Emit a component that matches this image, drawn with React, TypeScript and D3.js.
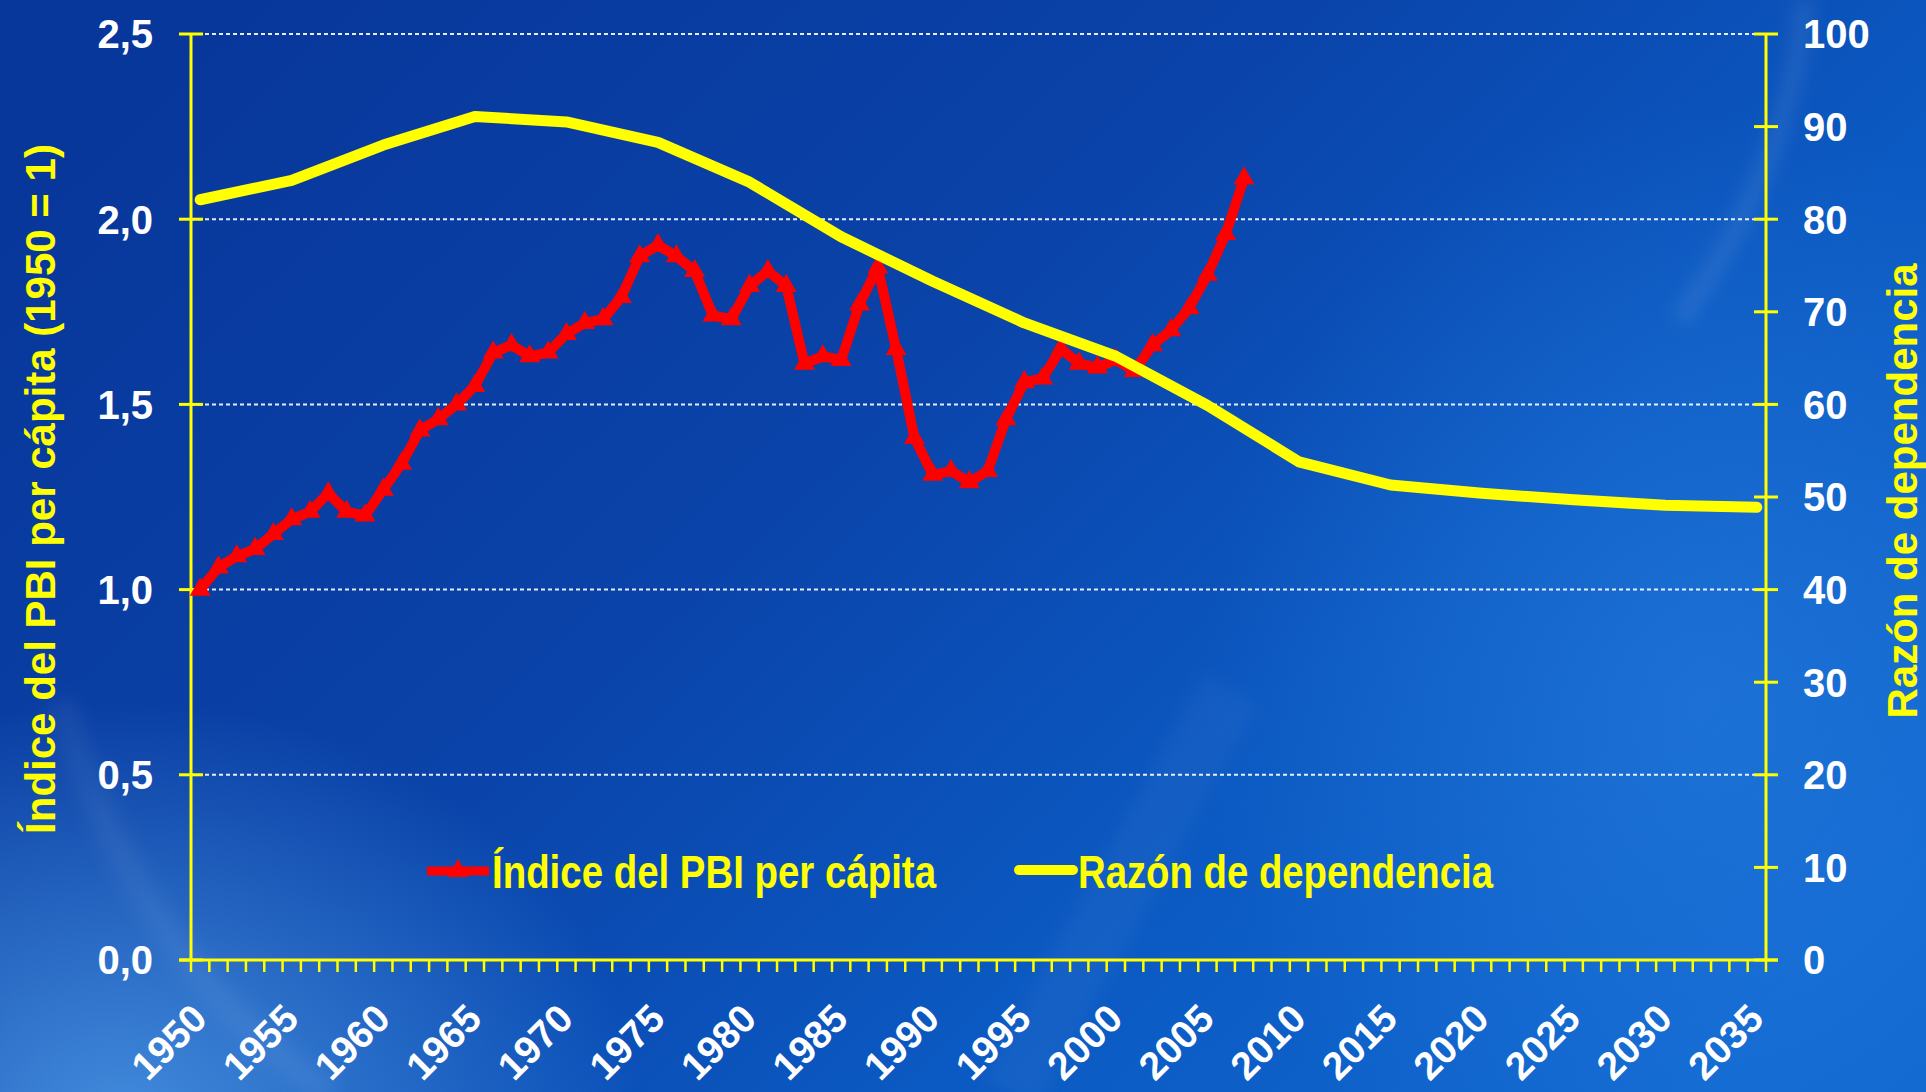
import React, { useEffect, useRef } from "react";
import * as d3 from "d3";

// categories: one band per year, 1950..2035
const years = d3.range(1950, 2036);

// Índice del PBI per cápita (1950 = 1), 1950..2007
const pbiYears = d3.range(1950, 2008);
const pbiValues = [
  1.0, 1.06, 1.09, 1.11, 1.15, 1.19, 1.21, 1.26, 1.21, 1.2,
  1.27, 1.34, 1.43, 1.46, 1.5, 1.55, 1.64, 1.66, 1.63, 1.64,
  1.69, 1.72, 1.73, 1.79, 1.9, 1.93, 1.9, 1.86, 1.74, 1.73,
  1.82, 1.86, 1.82, 1.61, 1.63, 1.62, 1.77, 1.87, 1.65, 1.41,
  1.31, 1.32, 1.29, 1.32, 1.46, 1.56, 1.57, 1.65, 1.61, 1.6,
  1.62, 1.59, 1.66, 1.7, 1.76, 1.85, 1.96, 2.11,
];

// Razón de dependencia, every 5 years
const depYears = [1950, 1955, 1960, 1965, 1970, 1975, 1980, 1985, 1990, 1995, 2000, 2005, 2010, 2015, 2020, 2025, 2030, 2035];
const depValues = [82.1, 84.2, 88.0, 91.1, 90.5, 88.3, 84.0, 78.1, 73.3, 68.8, 65.2, 59.9, 53.8, 51.3, 50.4, 49.7, 49.1, 48.9];

const leftTicks = [0, 0.5, 1, 1.5, 2, 2.5];
const rightTicks = [0, 10, 20, 30, 40, 50, 60, 70, 80, 90, 100];
const yearLabels = [1950, 1955, 1960, 1965, 1970, 1975, 1980, 1985, 1990, 1995, 2000, 2005, 2010, 2015, 2020, 2025, 2030, 2035];

const W = 1926;
const H = 1092;
const FONT = "'Liberation Sans', Arial, sans-serif";
const YELLOW = "#ffff00";
const RED = "#ff0000";

export default function App() {
  const svgRef = useRef<SVGSVGElement>(null);

  useEffect(() => {
    const svg = d3.select(svgRef.current);
    svg.selectAll("*").remove();

    const left = 191, right = 1766, top = 34, bottom = 960;

    const x = d3.scaleBand<number>().domain(years).range([left, right]);
    const bw = x.bandwidth();
    const cx = (yr: number) => (x(yr) as number) + bw / 2;
    const yL = d3.scaleLinear().domain([0, 2.5]).range([bottom, top]);
    const yR = d3.scaleLinear().domain([0, 100]).range([bottom, top]);

    // background
    const defs = svg.append("defs");
    const bg = defs.append("linearGradient").attr("id", "bg")
      .attr("x1", 0).attr("y1", 0.2).attr("x2", 1).attr("y2", 0.8);
    bg.append("stop").attr("offset", 0).attr("stop-color", "#08379b");
    bg.append("stop").attr("offset", 0.4).attr("stop-color", "#0a43a9");
    bg.append("stop").attr("offset", 0.7).attr("stop-color", "#0b59c2");
    bg.append("stop").attr("offset", 1).attr("stop-color", "#1067cf");

    const glow = defs.append("radialGradient").attr("id", "glow")
      .attr("cx", 0.5).attr("cy", 0.5).attr("r", 0.5);
    glow.append("stop").attr("offset", 0).attr("stop-color", "#5aaaf2").attr("stop-opacity", 0.7);
    glow.append("stop").attr("offset", 1).attr("stop-color", "#5aaaf2").attr("stop-opacity", 0);

    const glow2 = defs.append("radialGradient").attr("id", "glow2")
      .attr("cx", 0.5).attr("cy", 0.5).attr("r", 0.5);
    glow2.append("stop").attr("offset", 0).attr("stop-color", "#2f86e6").attr("stop-opacity", 0.45);
    glow2.append("stop").attr("offset", 1).attr("stop-color", "#2f86e6").attr("stop-opacity", 0);

    defs.append("filter").attr("id", "soft")
      .attr("x", -0.2).attr("y", -0.2).attr("width", 1.4).attr("height", 1.4)
      .append("feGaussianBlur").attr("stdDeviation", 8);

    svg.append("rect").attr("width", W).attr("height", H).attr("fill", "url(#bg)");
    svg.append("ellipse").attr("cx", 120).attr("cy", 1120).attr("rx", 520).attr("ry", 420).attr("fill", "url(#glow)");
    svg.append("ellipse").attr("cx", 1700).attr("cy", 700).attr("rx", 500).attr("ry", 600).attr("fill", "url(#glow2)");
    const streaks = svg.append("g").attr("filter", "url(#soft)");
    streaks.append("path")
      .attr("d", "M1805,0 C1795,120 1750,220 1680,320")
      .attr("fill", "none").attr("stroke", "#ffffff").attr("stroke-opacity", 0.08).attr("stroke-width", 20);
    streaks.append("path")
      .attr("d", "M1230,690 L1010,1092")
      .attr("fill", "none").attr("stroke", "#ffffff").attr("stroke-opacity", 0.035).attr("stroke-width", 60);
    streaks.append("path")
      .attr("d", "M60,700 C120,900 220,1020 330,1092")
      .attr("fill", "none").attr("stroke", "#ffffff").attr("stroke-opacity", 0.05).attr("stroke-width", 30);

    // grid lines
    svg.append("g").selectAll("line")
      .data(leftTicks.filter((v) => v > 0))
      .enter().append("line")
      .attr("x1", left).attr("x2", right)
      .attr("y1", (d) => yL(d)).attr("y2", (d) => yL(d))
      .attr("stroke", "#ffffff").attr("stroke-width", 2).attr("stroke-dasharray", "4 3")
      .attr("stroke-opacity", 0.9);

    // left axis
    const gl = svg.append("g");
    gl.append("line").attr("x1", left).attr("x2", left).attr("y1", top).attr("y2", bottom)
      .attr("stroke", YELLOW).attr("stroke-width", 3);
    gl.selectAll(".tk").data(leftTicks).enter().append("line")
      .attr("x1", left - 12).attr("x2", left + 12)
      .attr("y1", (d) => yL(d)).attr("y2", (d) => yL(d))
      .attr("stroke", YELLOW).attr("stroke-width", 3);
    gl.selectAll("text").data(leftTicks).enter().append("text")
      .attr("x", 153).attr("y", (d) => yL(d)).attr("dy", "0.36em")
      .attr("text-anchor", "end").attr("fill", "#ffffff")
      .attr("font-family", FONT).attr("font-weight", "bold").attr("font-size", 40)
      .text((d) => d.toFixed(1).replace(".", ","));

    // right axis
    const gr = svg.append("g");
    gr.append("line").attr("x1", right).attr("x2", right).attr("y1", top).attr("y2", bottom)
      .attr("stroke", YELLOW).attr("stroke-width", 3);
    gr.selectAll(".tk").data(rightTicks).enter().append("line")
      .attr("x1", right - 12).attr("x2", right + 12)
      .attr("y1", (d) => yR(d)).attr("y2", (d) => yR(d))
      .attr("stroke", YELLOW).attr("stroke-width", 3);
    gr.selectAll("text").data(rightTicks).enter().append("text")
      .attr("x", 1803).attr("y", (d) => yR(d)).attr("dy", "0.36em")
      .attr("text-anchor", "start").attr("fill", "#ffffff")
      .attr("font-family", FONT).attr("font-weight", "bold").attr("font-size", 40)
      .text((d) => d);

    // x axis
    const gx = svg.append("g");
    gx.append("line").attr("x1", left - 12).attr("x2", right + 12).attr("y1", bottom).attr("y2", bottom)
      .attr("stroke", YELLOW).attr("stroke-width", 3);
    const bounds = years.map((yr) => x(yr) as number).concat([right]);
    gx.selectAll(".tk").data(bounds).enter().append("line")
      .attr("x1", (d) => d).attr("x2", (d) => d)
      .attr("y1", bottom).attr("y2", bottom + 12)
      .attr("stroke", YELLOW).attr("stroke-width", 2.5);
    gx.selectAll("text").data(yearLabels).enter().append("text")
      .attr("transform", (d) => `translate(${cx(d) + 9},${bottom + 61}) rotate(-45)`)
      .attr("text-anchor", "end").attr("fill", "#ffffff")
      .attr("font-family", FONT).attr("font-weight", "bold").attr("font-size", 39)
      .text((d) => d);

    // axis titles
    svg.append("text")
      .attr("transform", "translate(55,489) rotate(-90)")
      .attr("text-anchor", "middle").attr("fill", YELLOW)
      .attr("font-family", FONT).attr("font-weight", "bold").attr("font-size", 42)
      .text("Índice del PBI per cápita (1950 = 1)");
    svg.append("text")
      .attr("transform", "translate(1917,491) rotate(-90)")
      .attr("text-anchor", "middle").attr("fill", YELLOW)
      .attr("font-family", FONT).attr("font-weight", "bold").attr("font-size", 42)
      .text("Razón de dependencia");

    // red series
    const pbi = pbiYears.map((yr, i) => ({ yr, v: pbiValues[i] }));
    const redLine = d3.line<{ yr: number; v: number }>()
      .x((d) => cx(d.yr)).y((d) => yL(d.v));
    svg.append("path").datum(pbi).attr("d", redLine)
      .attr("fill", "none").attr("stroke", RED).attr("stroke-width", 10)
      .attr("stroke-linejoin", "round");
    const tri = d3.symbol().type(d3.symbolTriangle).size(190);
    svg.append("g").selectAll("path").data(pbi).enter().append("path")
      .attr("d", tri)
      .attr("transform", (d) => `translate(${cx(d.yr)},${yL(d.v)})`)
      .attr("fill", RED);

    // yellow series
    const dep = depYears.map((yr, i) => ({ yr, v: depValues[i] }));
    const yelLine = d3.line<{ yr: number; v: number }>()
      .x((d) => cx(d.yr)).y((d) => yR(d.v));
    svg.append("path").datum(dep).attr("d", yelLine)
      .attr("fill", "none").attr("stroke", YELLOW).attr("stroke-width", 11)
      .attr("stroke-linejoin", "round").attr("stroke-linecap", "round");

    // legend
    const lg = svg.append("g");
    lg.append("line").attr("x1", 427).attr("x2", 489).attr("y1", 871).attr("y2", 871)
      .attr("stroke", RED).attr("stroke-width", 9);
    lg.append("path").attr("d", tri).attr("transform", "translate(458,871)").attr("fill", RED);
    lg.append("text").attr("x", 492).attr("y", 888)
      .attr("textLength", 444).attr("lengthAdjust", "spacingAndGlyphs")
      .attr("fill", YELLOW).attr("font-family", FONT).attr("font-weight", "bold").attr("font-size", 46)
      .text("Índice del PBI per cápita");
    lg.append("line").attr("x1", 1019).attr("x2", 1073).attr("y1", 870).attr("y2", 870)
      .attr("stroke", YELLOW).attr("stroke-width", 10).attr("stroke-linecap", "round");
    lg.append("text").attr("x", 1078).attr("y", 888)
      .attr("textLength", 415).attr("lengthAdjust", "spacingAndGlyphs")
      .attr("fill", YELLOW).attr("font-family", FONT).attr("font-weight", "bold").attr("font-size", 46)
      .text("Razón de dependencia");
  }, []);

  return (
    <svg
      ref={svgRef}
      width={W}
      height={H}
      style={{ position: "fixed", left: 0, top: 0, display: "block" }}
    ></svg>
  );
}
